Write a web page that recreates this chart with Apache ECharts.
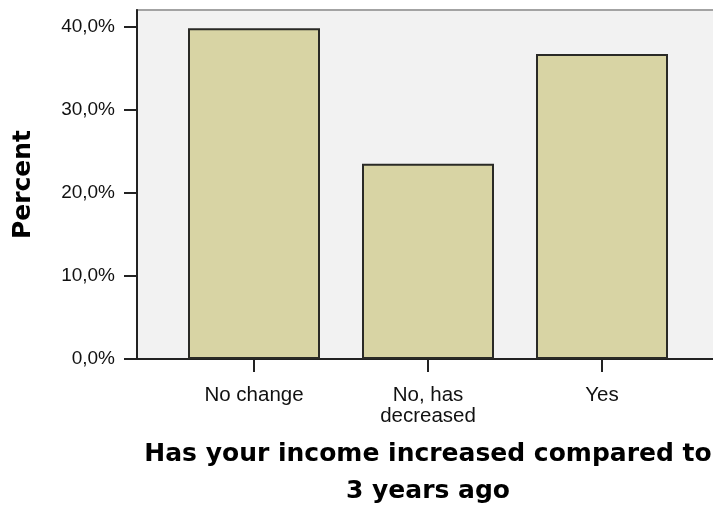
<!DOCTYPE html>
<html>
<head>
<meta charset="utf-8">
<script src="https://cdn.jsdelivr.net/npm/echarts@6/dist/echarts.min.js"></script>
<style>
html,body{margin:0;padding:0;background:#fff;}
#c{width:713px;height:506px;}
</style>
</head>
<body>
<div id="c"></div>
<script>
var categories = ['No change', 'No, has\ndecreased', 'Yes'];
var percentValues = [39.8, 23.5, 36.7];
var yTicks = [0, 10, 20, 30, 40];
var yAxisName = 'Percent';
var xAxisName = 'Has your income increased compared to\n3 years ago';

var chart = echarts.init(document.getElementById('c'), null, {renderer: 'canvas'});
var boldFont = 'DejaVu Sans';
var labelFont = 'Liberation Sans';
chart.setOption({
  animation: false,
  backgroundColor: '#ffffff',
  grid: [
    {left: 137, top: 10, right: -30, bottom: 147, show: true, backgroundColor: '#f2f2f2', borderColor: '#a3a3a3', borderWidth: 2, outerBoundsMode: 'none', containLabel: false},
    {left: 167, top: 10, width: 522, bottom: 147, outerBoundsMode: 'none', containLabel: false}
  ],
  xAxis: [
    {gridIndex: 0, type: 'value', min: 0, max: 1, axisLabel: {show: false}, axisTick: {show: false}, splitLine: {show: false},
     axisLine: {show: true, lineStyle: {color: '#222', width: 2}}},
    {gridIndex: 1, type: 'category', data: categories, boundaryGap: true,
     axisLine: {show: false},
     axisTick: {show: true, alignWithLabel: true, length: 13, lineStyle: {color: '#222', width: 2}},
     axisLabel: {fontFamily: labelFont, fontSize: 20.5, color: '#111', margin: 26, lineHeight: 21},
     name: xAxisName, nameLocation: 'middle', nameGap: 77,
     nameTextStyle: {fontFamily: boldFont, fontSize: 25, fontWeight: 'bold', color: '#000', lineHeight: 37}}
  ],
  yAxis: [
    {gridIndex: 0, type: 'value', min: 0, max: 42,
     axisLine: {show: true, lineStyle: {color: '#222', width: 2}},
     axisTick: {show: true, length: 13, customValues: yTicks, lineStyle: {color: '#222', width: 2}},
     axisLabel: {customValues: yTicks, fontFamily: labelFont, fontSize: 19, color: '#111', margin: 22,
       formatter: function (v) { return v.toFixed(1).replace('.', ',') + '%'; }},
     splitLine: {show: false},
     name: yAxisName, nameLocation: 'middle', nameRotate: 90, nameGap: 101,
     nameTextStyle: {fontFamily: boldFont, fontSize: 25, fontWeight: 'bold', color: '#000'}},
    {gridIndex: 1, type: 'value', min: 0, max: 42, show: false}
  ],
  series: [{
    type: 'bar', xAxisIndex: 1, yAxisIndex: 1, data: percentValues, barWidth: 132,
    itemStyle: {color: '#d8d4a4', borderColor: '#2a2a26', borderWidth: 2}
  }]
});
</script>
</body>
</html>
